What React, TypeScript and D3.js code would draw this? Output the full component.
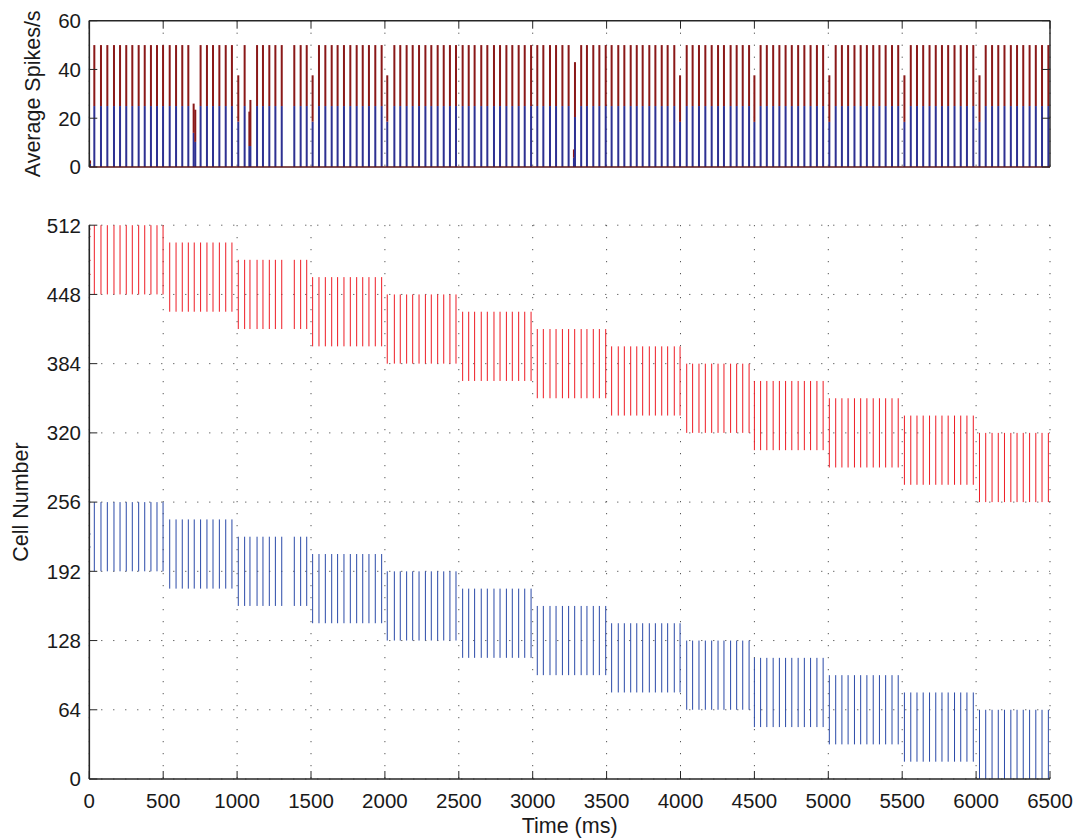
import React from 'react';
import * as d3 from 'd3';

// Population-rate histogram bins (ms) with stacked rates (spikes/s) per group
const binTimes = [
  5, 34, 79, 122, 167, 208, 250, 291, 334, 375, 417, 458, 499,
  544, 587, 629, 670, 706, 717, 753, 796, 837, 880, 923, 965,
  1008, 1051, 1083, 1090, 1135, 1175, 1218, 1259, 1302, 1387, 1430, 1471,
  1511, 1554, 1597, 1640, 1680, 1723, 1766, 1809, 1850, 1892, 1935, 1978,
  2016, 2064, 2104, 2147, 2188, 2231, 2274, 2314, 2357, 2398, 2440, 2481,
  2526, 2567, 2607, 2652, 2693, 2738, 2779, 2822, 2862, 2905, 2946, 2989,
  3031, 3072, 3117, 3158, 3201, 3243, 3279, 3286, 3328, 3367, 3410, 3451, 3494,
  3534, 3579, 3620, 3663, 3704, 3744, 3789, 3830, 3873, 3913, 3958, 3997,
  4042, 4082, 4125, 4168, 4211, 4254, 4294, 4339, 4380, 4421, 4464, 4500,
  4542, 4584, 4627, 4669, 4711, 4753, 4796, 4838, 4880, 4923, 4965, 5007,
  5050, 5092, 5134, 5177, 5219, 5261, 5304, 5346, 5388, 5431, 5473, 5515,
  5558, 5600, 5642, 5685, 5727, 5769, 5811, 5854, 5896, 5938, 5981, 6023,
  6065, 6108, 6150, 6192, 6235, 6277, 6319, 6362, 6404, 6446, 6489,
];

const blueRate = [
  1.3, 25, 25, 25, 25, 25, 25, 25, 25, 25, 25, 25, 25,
  25, 25, 25, 25, 14, 10.3, 25, 25, 25, 25, 25, 25,
  18.6, 25, 8.6, 8.6, 25, 25, 25, 25, 25, 25, 25, 25,
  18.6, 25, 25, 25, 25, 25, 25, 25, 25, 25, 25, 25,
  18.6, 25, 25, 25, 25, 25, 25, 25, 25, 25, 25, 25,
  25, 25, 25, 25, 25, 25, 25, 25, 25, 25, 25, 25,
  25, 25, 25, 25, 25, 25, 3.8, 20.5, 25, 25, 25, 25, 25,
  25, 25, 25, 25, 25, 25, 25, 25, 25, 25, 25, 18.5,
  25, 25, 25, 25, 25, 25, 25, 25, 25, 25, 25, 18.5,
  25, 25, 25, 25, 25, 25, 25, 25, 25, 25, 25, 18.5,
  25, 25, 25, 25, 25, 25, 25, 25, 25, 25, 25, 18.5,
  25, 25, 25, 25, 25, 25, 25, 25, 25, 25, 25, 18.5,
  25, 25, 25, 25, 25, 25, 25, 25, 25, 25, 25,
];

const redRate = [
  1.4, 25, 25, 25, 25, 25, 25, 25, 25, 25, 25, 25, 25,
  25, 25, 25, 25, 12, 13.2, 25, 25, 25, 25, 25, 25,
  19, 25, 14.1, 18.9, 25, 25, 25, 25, 25, 25, 25, 25,
  19, 25, 25, 25, 25, 25, 25, 25, 25, 25, 25, 25,
  19, 25, 25, 25, 25, 25, 25, 25, 25, 25, 25, 25,
  25, 25, 25, 25, 25, 25, 25, 25, 25, 25, 25, 25,
  25, 25, 25, 25, 25, 25, 3.4, 22.5, 25, 25, 25, 25, 25,
  25, 25, 25, 25, 25, 25, 25, 25, 25, 25, 25, 19.1,
  25, 25, 25, 25, 25, 25, 25, 25, 25, 25, 25, 19.1,
  25, 25, 25, 25, 25, 25, 25, 25, 25, 25, 25, 19.1,
  25, 25, 25, 25, 25, 25, 25, 25, 25, 25, 25, 19.1,
  25, 25, 25, 25, 25, 25, 25, 25, 25, 25, 25, 19.1,
  25, 25, 25, 25, 25, 25, 25, 25, 25, 25, 25,
];

// Synchronous volleys in the raster (ms)
const volleyTimes = [
  34, 79, 122, 167, 208, 250, 291, 334, 375, 417, 458, 499,
  544, 587, 629, 670, 710, 753, 796, 837, 880, 923, 965,
  1008, 1051, 1087, 1135, 1175, 1218, 1259, 1302, 1387, 1430, 1471,
  1511, 1554, 1597, 1640, 1680, 1723, 1766, 1809, 1850, 1892, 1935, 1978,
  2016, 2064, 2104, 2147, 2188, 2231, 2274, 2314, 2357, 2398, 2440, 2481,
  2526, 2567, 2607, 2652, 2693, 2738, 2779, 2822, 2862, 2905, 2946, 2989,
  3031, 3072, 3117, 3158, 3201, 3243, 3284, 3328, 3367, 3410, 3451, 3494,
  3534, 3579, 3620, 3663, 3704, 3744, 3789, 3830, 3873, 3913, 3958, 3997,
  4042, 4082, 4125, 4168, 4211, 4254, 4294, 4339, 4380, 4421, 4464, 4500,
  4542, 4584, 4627, 4669, 4711, 4753, 4796, 4838, 4880, 4923, 4965, 5007,
  5050, 5092, 5134, 5177, 5219, 5261, 5304, 5346, 5388, 5431, 5473, 5515,
  5558, 5600, 5642, 5685, 5727, 5769, 5811, 5854, 5896, 5938, 5981, 6023,
  6065, 6108, 6150, 6192, 6235, 6277, 6319, 6362, 6404, 6446, 6489,
];

// Isolated spikes at the very start of the run
const earlySpikeTime = 5;
const earlyRedCells = [508, 501, 479, 466];
const earlyBlueCells = [226, 214];

// Moving cell assemblies: each 500 ms block the active 64 cells shift down by 16
const blockMs = 500;
const blockShift = 16;
const assemblySize = 64;
const redAssemblyTop = 512;
const blueAssemblyTop = 256;

const timeTicks = [0, 500, 1000, 1500, 2000, 2500, 3000, 3500, 4000, 4500, 5000, 5500, 6000, 6500];
const rateTicks = [0, 20, 40, 60];
const cellTicks = [0, 64, 128, 192, 256, 320, 384, 448, 512];

const W = 1075;
const H = 839;
const FONT = '"Liberation Sans", Arial, Helvetica, sans-serif';
const AXIS = '#262626';
const GRID = '#303030';
const BAR_BLUE = '#2e3192';
const BAR_RED = '#8a1919';
const RAST_RED = '#ee1c25';
const RAST_BLUE = '#2b4aa8';

export default function App() {
  const x = d3.scaleLinear().domain([0, 6500]).range([89.3, 1050]);
  const yRate = d3.scaleLinear().domain([0, 60]).range([167, 20.7]);
  const yCell = d3.scaleLinear().domain([0, 512]).range([779, 225.2]);

  const left = x(0);
  const right = x(6500);
  const tickLen = 8;
  const fs = 20.5;
  const fsTitle = 21.5;

  const raster = volleyTimes.map((t, i) => {
    const block = Math.floor(t / blockMs);
    const redTop = redAssemblyTop - block * blockShift;
    const blueTop = blueAssemblyTop - block * blockShift;
    return (
      <g key={'v' + i}>
        <line x1={x(t)} x2={x(t)} y1={yCell(redTop)} y2={yCell(redTop - assemblySize)} stroke={RAST_RED} strokeWidth={1} />
        <line x1={x(t)} x2={x(t)} y1={yCell(blueTop)} y2={yCell(blueTop - assemblySize)} stroke={RAST_BLUE} strokeWidth={1} />
      </g>
    );
  });

  return (
    <svg width={W} height={H} style={{ position: 'absolute', left: 0, top: 0, background: '#fff' }} fontFamily={FONT}>
      <rect x={0} y={0} width={W} height={H} fill="#fff" />

      {/* ---------- top panel: population rate ---------- */}
      <g>
        {timeTicks.map((t) => (
          <line key={'tg' + t} x1={x(t)} x2={x(t)} y1={yRate(60)} y2={yRate(0)} stroke={GRID} strokeWidth={1} strokeDasharray="1 11" />
        ))}
        {binTimes.map((t, i) => (
          <g key={'b' + i}>
            <rect x={x(t) - 1} width={2} y={yRate(blueRate[i])} height={yRate(0) - yRate(blueRate[i])} fill={BAR_BLUE} />
            <rect x={x(t) - 1} width={2} y={yRate(blueRate[i] + redRate[i])} height={yRate(blueRate[i]) - yRate(blueRate[i] + redRate[i])} fill={BAR_RED} />
          </g>
        ))}
        {/* box */}
        <line x1={left} x2={right} y1={yRate(60)} y2={yRate(60)} stroke={AXIS} strokeWidth={1.4} />
        <line x1={right} x2={right} y1={yRate(60)} y2={yRate(0)} stroke={AXIS} strokeWidth={1.4} />
        <line x1={left} x2={left} y1={yRate(60)} y2={yRate(0)} stroke={AXIS} strokeWidth={1.6} />
        <line x1={left} x2={right} y1={yRate(0)} y2={yRate(0)} stroke="#5a1414" strokeWidth={1.6} />
        {timeTicks.map((t) => (
          <g key={'tt' + t}>
            <line x1={x(t)} x2={x(t)} y1={yRate(60)} y2={yRate(60) + tickLen} stroke={AXIS} strokeWidth={1} />
          </g>
        ))}
        {rateTicks.map((v) => (
          <g key={'rt' + v}>
            <line x1={left} x2={left + tickLen} y1={yRate(v)} y2={yRate(v)} stroke={AXIS} strokeWidth={1} />
            <line x1={right} x2={right - tickLen} y1={yRate(v)} y2={yRate(v)} stroke={AXIS} strokeWidth={1} />
            <text x={81} y={yRate(v)} dy="0.36em" textAnchor="end" fontSize={fs} fill="#1a1a1a">{v}</text>
          </g>
        ))}
        <text transform={`translate(40,${(yRate(0) + yRate(60)) / 2}) rotate(-90)`} textAnchor="middle" fontSize={fsTitle} fill="#1a1a1a">Average Spikes/s</text>
      </g>

      {/* ---------- bottom panel: raster ---------- */}
      <g>
        {timeTicks.map((t) => (
          <line key={'vg' + t} x1={x(t)} x2={x(t)} y1={yCell(512)} y2={yCell(0)} stroke={GRID} strokeWidth={1} strokeDasharray="1 11" />
        ))}
        {cellTicks.map((c) => (
          <line key={'hg' + c} x1={left} x2={right} y1={yCell(c)} y2={yCell(c)} stroke={GRID} strokeWidth={1} strokeDasharray="1 11" />
        ))}
        {raster}
        {earlyRedCells.map((c) => (
          <line key={'er' + c} x1={x(earlySpikeTime)} x2={x(earlySpikeTime)} y1={yCell(c + 1)} y2={yCell(c)} stroke={RAST_RED} strokeWidth={1} />
        ))}
        {earlyBlueCells.map((c) => (
          <line key={'eb' + c} x1={x(earlySpikeTime)} x2={x(earlySpikeTime)} y1={yCell(c + 1)} y2={yCell(c)} stroke={RAST_BLUE} strokeWidth={1} />
        ))}
        <line x1={left} x2={left} y1={yCell(512)} y2={yCell(0)} stroke={AXIS} strokeWidth={1.6} />
        <line x1={left} x2={right} y1={yCell(0)} y2={yCell(0)} stroke={AXIS} strokeWidth={1.6} />
        {timeTicks.map((t) => (
          <g key={'xt' + t}>
            <line x1={x(t)} x2={x(t)} y1={yCell(0)} y2={yCell(0) - tickLen} stroke={AXIS} strokeWidth={1} />
            <text x={x(t)} y={808} textAnchor="middle" fontSize={fs} fill="#1a1a1a">{t}</text>
          </g>
        ))}
        {cellTicks.map((c) => (
          <g key={'ct' + c}>
            <line x1={left} x2={left + tickLen} y1={yCell(c)} y2={yCell(c)} stroke={AXIS} strokeWidth={1} />
            <text x={81} y={yCell(c)} dy="0.36em" textAnchor="end" fontSize={fs} fill="#1a1a1a">{c}</text>
          </g>
        ))}
        <text x={(left + right) / 2} y={833} textAnchor="middle" fontSize={fsTitle} fill="#1a1a1a">Time (ms)</text>
        <text transform={`translate(28,${(yCell(0) + yCell(512)) / 2}) rotate(-90)`} textAnchor="middle" fontSize={fsTitle} fill="#1a1a1a">Cell Number</text>
      </g>
    </svg>
  );
}
